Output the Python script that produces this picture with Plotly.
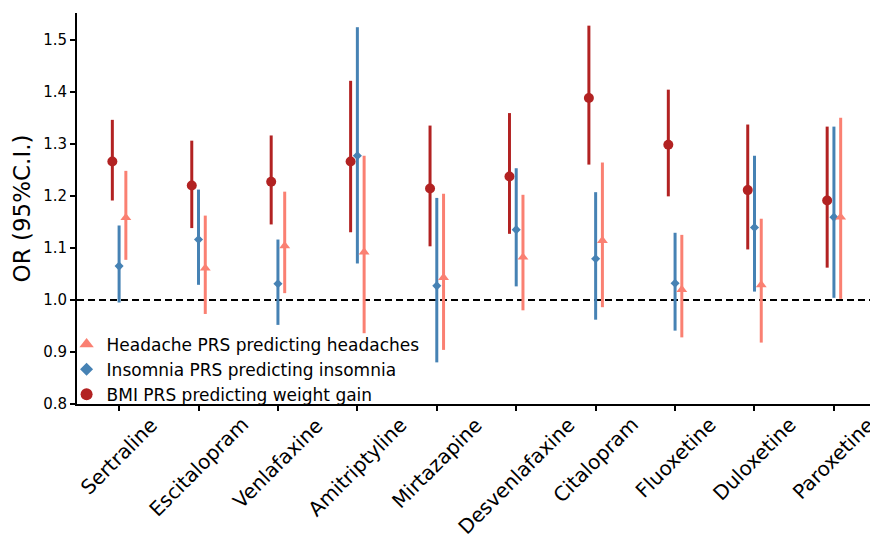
import plotly.graph_objects as go

drugs = ["Sertraline", "Escitalopram", "Venlafaxine", "Amitriptyline", "Mirtazapine",
         "Desvenlafaxine", "Citalopram", "Fluoxetine", "Duloxetine", "Paroxetine"]

bmi_or = [1.266, 1.220, 1.227, 1.266, 1.214, 1.237, 1.388, 1.298, 1.211, 1.191]
bmi_lo = [1.191, 1.138, 1.145, 1.130, 1.103, 1.127, 1.260, 1.199, 1.097, 1.062]
bmi_hi = [1.346, 1.306, 1.316, 1.421, 1.335, 1.359, 1.527, 1.404, 1.337, 1.333]

ins_or = [1.065, 1.116, 1.031, 1.277, 1.027, 1.135, 1.079, 1.032, 1.139, 1.159]
ins_lo = [0.995, 1.029, 0.952, 1.070, 0.880, 1.026, 0.962, 0.941, 1.016, 1.004]
ins_hi = [1.143, 1.212, 1.116, 1.524, 1.196, 1.253, 1.207, 1.129, 1.277, 1.333]

head_or = [1.158, 1.061, 1.104, 1.092, 1.043, 1.082, 1.114, 1.020, 1.029, 1.159]
head_lo = [1.077, 0.973, 1.013, 0.936, 0.904, 0.980, 0.986, 0.928, 0.918, 1.002]
head_hi = [1.248, 1.162, 1.208, 1.277, 1.204, 1.202, 1.264, 1.125, 1.156, 1.350]

y_ticks = [0.8, 0.9, 1.0, 1.1, 1.2, 1.3, 1.4, 1.5]

FONT = "DejaVu Sans"
idx = list(range(len(drugs)))
off = 0.085

series = [
    ("BMI PRS predicting weight gain", bmi_or, bmi_lo, bmi_hi, -off, "#B22222", "circle", 10, 12),
    ("Insomnia PRS predicting insomnia", ins_or, ins_lo, ins_hi, 0.0, "#4682B4", "diamond", 7, 10),
    ("Headache PRS predicting headaches", head_or, head_lo, head_hi, off, "#FA8072", "triangle-up", 9.5, 12.5),
]

fig = go.Figure()
for name, v, lo, hi, dx, col, sym, sz, lsz in series:
    fig.add_trace(go.Scatter(
        x=[i + dx for i in idx], y=v, mode="markers", name=name, showlegend=False,
        marker=dict(color=col, symbol=sym, size=sz, line=dict(width=0)),
        error_y=dict(type="data", symmetric=False,
                     array=[h - m for h, m in zip(hi, v)],
                     arrayminus=[m - l for m, l in zip(v, lo)],
                     color=col, thickness=3, width=0),
    ))
for name, v, lo, hi, dx, col, sym, sz, lsz in series:
    fig.add_trace(go.Scatter(
        x=[None], y=[None], mode="markers", name=name, showlegend=True,
        marker=dict(color=col, symbol=sym, size=lsz, line=dict(width=0)),
    ))

fig.add_shape(type="line", xref="paper", x0=0, x1=1, yref="y", y0=1.0, y1=1.0,
              line=dict(color="black", width=2, dash="7px,4px"), layer="below")

for i, d in zip(idx, drugs):
    fig.add_annotation(x=i, xref="x", y=0, yref="paper", yanchor="top", xanchor="center",
                       yshift=-6, text=d, textangle=-45, showarrow=False,
                       font=dict(family=FONT, size=20, color="black"))

fig.update_layout(
    width=870, height=529,
    margin=dict(l=69, r=0, t=5, b=133),
    plot_bgcolor="white", paper_bgcolor="white",
    font=dict(family=FONT, color="black"),
    showlegend=True,
    legend=dict(x=-0.013, y=-0.022, xanchor="left", yanchor="bottom",
                traceorder="reversed", bgcolor="rgba(0,0,0,0)",
                font=dict(family=FONT, size=17, color="black")),
    xaxis=dict(range=[-0.53, 9.555], tickvals=idx, showticklabels=False,
               ticks="outside", ticklen=5, tickwidth=1.5, tickcolor="black",
               showline=True, linecolor="black", linewidth=2,
               showgrid=False, zeroline=False),
    yaxis=dict(range=[0.8, 1.5513], tickvals=y_ticks, tickformat=".1f",
               ticks="outside", ticklen=5, tickwidth=1.5, tickcolor="black",
               showline=True, linecolor="black", linewidth=2,
               showgrid=False, zeroline=False,
               tickfont=dict(family=FONT, size=15, color="black"),
               title=dict(text="OR (95%C.I.)", font=dict(family=FONT, size=23, color="black"),
                          standoff=6)),
)

fig.write_html("out.html")
